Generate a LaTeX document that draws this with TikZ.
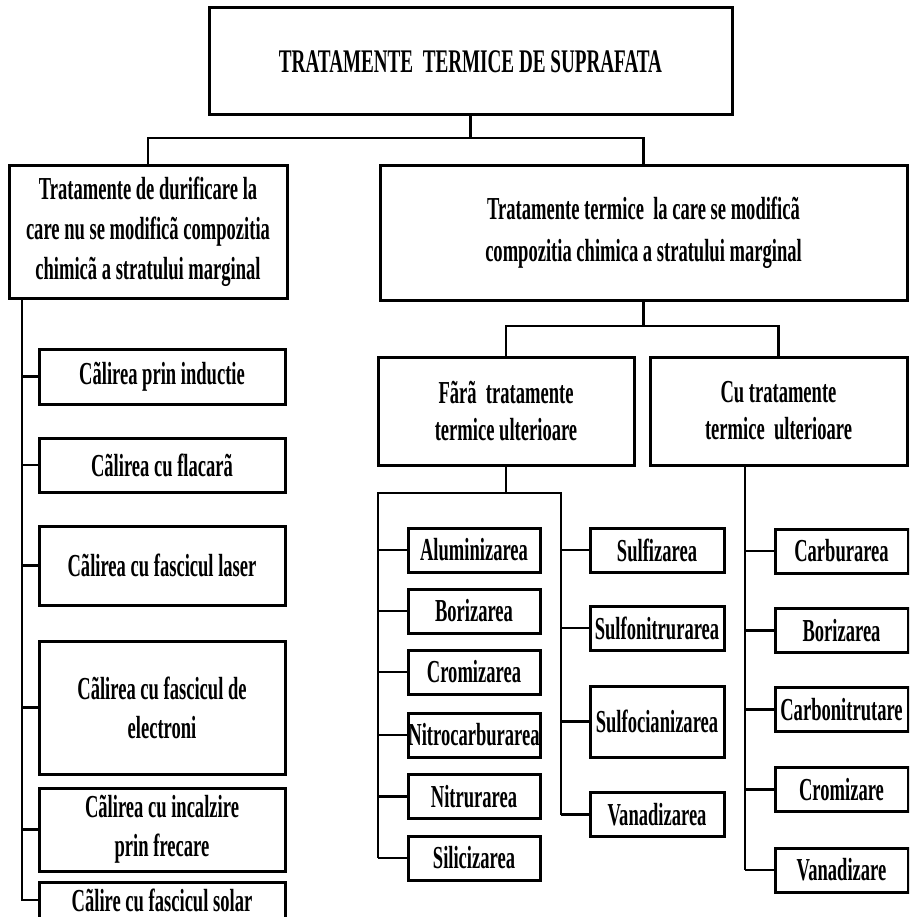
\documentclass[tikz,border=0pt]{standalone}
\usepackage{fontspec}
\setmainfont{Liberation Serif}[FakeStretch=0.58]
\usepackage{tikz}

\tikzset{
	tbox/.style={draw,line width=3pt,inner sep=0pt,align=center,font=\bfseries\fontsize{32}{40}\selectfont},
	leaf/.style={tbox,minimum height=44},
	link/.style={line width=2.5pt},
}

\begin{document}
\begin{tikzpicture}[x=1pt,y=-1pt]
		\useasboundingbox (0,0) rectangle (909,917);
		\clip (0,0) rectangle (909,917);
		% nivelul 1 si 2
		\node[tbox,minimum width=523,minimum height=107,font=\bfseries\fontsize{33}{40}\selectfont] (title) at (470.5,61.5) {TRATAMENTE\ \ TERMICE DE SUPRAFATA};
		\node[tbox,minimum width=278,minimum height=132] (dur) at (148,232) {Tratamente de durificare la\\care nu se modificã compozitia\\chimicã a stratului marginal};
		\node[tbox,minimum width=527,minimum height=134,font=\bfseries\fontsize{32}{42}\selectfont] (modif) at (643.5,233) {Tratamente termice\ \ la care se modificã\\compozitia chimica a stratului marginal};
		\node[tbox,minimum width=256,minimum height=108,font=\bfseries\fontsize{32}{37}\selectfont] (fara) at (506,411) {Fãrã\ \ tratamente\\termice ulterioare};
		\node[tbox,minimum width=257,minimum height=108,font=\bfseries\fontsize{32}{37}\selectfont] (cu) at (778.5,411) {Cu tratamente\\termice\ \ ulterioare};
		\coordinate (tj) at (461,138);
		\coordinate (mj) at (645,326);
		\draw[link] (title.south) -- (title.south |- tj);
		\draw[link] (dur.north) |- (tj) -| (modif.north);
		\draw[link] (modif.south) -- (modif.south |- mj);
		\draw[link] (fara.north) |- (mj) -| (cu.north);
		% calire
		\node[tbox,minimum width=246,minimum height=55] (induc) at (162,376.5) {Cãlirea prin inductie};
		\node[tbox,minimum width=246,minimum height=54] (flac) at (162,465) {Cãlirea cu flacarã};
		\node[tbox,minimum width=246,minimum height=79] (laser) at (162,565.5) {Cãlirea cu fascicul laser};
		\node[tbox,minimum width=246,minimum height=133,font=\bfseries\fontsize{32}{39}\selectfont] (elec) at (162,707.5) {Cãlirea cu fascicul de\\electroni};
		\node[tbox,minimum width=246,minimum height=83,font=\bfseries\fontsize{32}{39}\selectfont] (frec) at (162,829.5) {Cãlirea cu incalzire\\prin frecare};
		\node[tbox,minimum width=246,minimum height=36] (solar) at (162,900) {Cãlire cu fascicul solar};
		\coordinate (lsp) at (22,298);
		\draw[link] (lsp) |- (solar.west);
		\foreach \n in {induc,flac,laser,elec,frec}
			\draw[link] (lsp |- \n.west) -- (\n.west);
		% fara tratamente ulterioare
		\node[leaf,minimum width=132] (alum) at (474,550) {Aluminizarea};
		\node[leaf,minimum width=132] (bor1) at (474,611) {Borizarea};
		\node[leaf,minimum width=132] (crom1) at (474,672) {Cromizarea};
		\node[leaf,minimum width=132] (nitroc) at (474,735) {Nitrocarburarea};
		\node[leaf,minimum width=132] (nitrur) at (474,796.5) {Nitrurarea};
		\node[leaf,minimum width=132] (silic) at (474,858) {Silicizarea};
		\node[leaf,minimum width=134] (sulf) at (657,550) {Sulfizarea};
		\node[leaf,minimum width=134] (sulfon) at (657,628) {Sulfonitrurarea};
		\node[leaf,minimum width=134,minimum height=71] (sulfoc) at (657,721.5) {Sulfocianizarea};
		\node[leaf,minimum width=134] (vanad1) at (657,814.5) {Vanadizarea};
		\coordinate (fj) at (378,493);
		\coordinate (fj2) at (561,493);
		\draw[link] (fara.south) -- (fara.south |- fj);
		\draw[link] (fj |- silic.west) -- (fj) -- (fj2) -- (fj2 |- vanad1.west);
		\foreach \n in {alum,bor1,crom1,nitroc,nitrur,silic}
			\draw[link] (fj |- \n.west) -- (\n.west);
		\foreach \n in {sulf,sulfon,sulfoc,vanad1}
			\draw[link] (fj2 |- \n.west) -- (\n.west);
		% cu tratamente ulterioare
		\node[leaf,minimum width=133] (carbur) at (841.5,551) {Carburarea};
		\node[leaf,minimum width=133] (bor2) at (841.5,630.5) {Borizarea};
		\node[leaf,minimum width=133] (carbon) at (841.5,709.5) {Carbonitrutare};
		\node[leaf,minimum width=133] (cromiz) at (841.5,789.5) {Cromizare};
		\node[leaf,minimum width=133] (vanadiz) at (841.5,870) {Vanadizare};
		\coordinate (cj) at (745,465);
		\draw[link] (cj) -- (cj |- vanadiz.west);
		\foreach \n in {carbur,bor2,carbon,cromiz,vanadiz}
			\draw[link] (cj |- \n.west) -- (\n.west);
\end{tikzpicture}
\end{document}
